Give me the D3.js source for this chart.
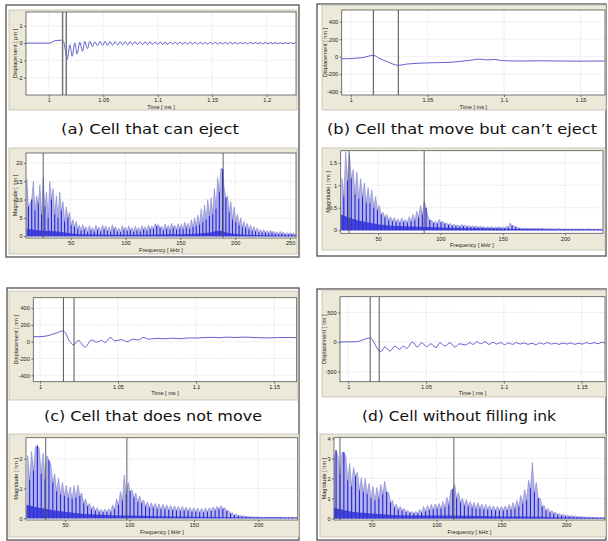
<!DOCTYPE html>
<html>
<head>
<meta charset="utf-8">
<script src="https://cdn.jsdelivr.net/npm/d3@7"></script>
<style>
	body { margin: 0; background: #fff; }
	svg { display: block; }
	.tick text { font-family: "Liberation Sans", Arial, sans-serif; font-size: 5.6px; fill: #222; }
	.tick line { stroke: #444; stroke-width: 0.7; }
	.ttl { font-family: "Liberation Sans", Arial, sans-serif; font-size: 5.6px; fill: #222; }
	.cap { font-family: "DejaVu Sans", sans-serif; font-size: 14px; fill: #111; }
</style>
</head>
<body>
<svg id="fig" width="608" height="541"></svg>
<script>
// captions
const captions = ['(a) Cell that can eject', '(b) Cell that move but can’t eject', '(c) Cell that does not move', '(d) Cell without filling ink'];

// tick labels
const timeTicksA = [1, 1.05, 1.1, 1.15, 1.2];
const timeTicksB = [1, 1.05, 1.1, 1.15];
const dispTicksA = [1, 0, -1, -2];
const dispTicksBC = [400, 200, 0, -200, -400];
const dispTicksD = [500, 0, -500];
const freqTicksA = [50, 100, 150, 200, 250];
const freqTicksB = [50, 100, 150, 200];
const magTicksA = [0, 5, 10, 15, 20];
const magTicksB = [0, 0.5, 1, 1.5];
const magTicksC = [0, 1, 2];
const magTicksD = [0, 1, 2, 3, 4];

// cursor positions (ms / kHz)
const cursorTimeA = [1.0126, 1.016];
const cursorTimeB = [1.0147, 1.031];
const cursorTimeC = [1.015, 1.0218];
const cursorTimeD = [1.0141, 1.0199];
const cursorFreqA = [25, 189];
const cursorFreqB = [26.7, 87];
const cursorFreqC = [35, 98];
const cursorFreqD = [25.5, 113.4];

// displacement signals
const timeA_t = [0.979, 0.990, 1.0009, 1.0028, 1.0064, 1.0116, 1.0133, 1.0151, 1.0168, 1.0193, 1.0214, 1.0238, 1.0260, 1.0284, 1.0309, 1.0330, 1.0355, 1.0376, 1.0400, 1.0422,
	1.0447, 1.0470, 1.0493, 1.0516, 1.0539, 1.0562, 1.0585, 1.0608, 1.0631, 1.0654,
	1.0677, 1.0700, 1.0723, 1.0746, 1.0769, 1.0792, 1.0815, 1.0838, 1.0861, 1.0884,
	1.0907, 1.0930, 1.0953, 1.0976, 1.0999, 1.1022, 1.1045, 1.1068, 1.1091, 1.1114,
	1.1137, 1.1160, 1.1183, 1.1206, 1.1229, 1.1252, 1.1275, 1.1298, 1.1321, 1.1344,
	1.1367, 1.1390, 1.1413, 1.1436, 1.1459, 1.1482, 1.1505, 1.1528, 1.1551, 1.1574,
	1.1597, 1.1620, 1.1643, 1.1666, 1.1689, 1.1712, 1.1735, 1.1758, 1.1781, 1.1804,
	1.1827, 1.1850, 1.1873, 1.1896, 1.1919, 1.1942, 1.1965, 1.1988, 1.2011, 1.2034,
	1.2057, 1.2080, 1.2103, 1.2126, 1.2149, 1.2172, 1.2195, 1.2218, 1.2241, 1.2264];
const timeA_v = [0, 0, 0, 0.06, 0.15, 0.17, 0.12, -0.4, -0.95, -0.1, -0.76, 0.0, -0.63, 0.05, -0.47, 0.1, -0.32, 0.1, -0.2, 0.08,
	-0.16, 0.1, -0.14, 0.1, -0.13, 0.09, -0.12, 0.09, -0.11, 0.08,
	-0.1, 0.08, -0.1, 0.09, -0.09, 0.08, -0.08, 0.07, -0.09, 0.08,
	-0.08, 0.07, -0.07, 0.06, -0.08, 0.07, -0.07, 0.07, -0.07, 0.06,
	-0.06, 0.06, -0.07, 0.06, -0.06, 0.05, -0.06, 0.05, -0.05, 0.05,
	-0.06, 0.05, -0.05, 0.04, -0.06, 0.05, -0.05, 0.05, -0.05, 0.04,
	-0.05, 0.04, -0.05, 0.05, -0.04, 0.04, -0.05, 0.04, -0.04, 0.04,
	-0.05, 0.04, -0.04, 0.04, -0.04, 0.04, -0.05, 0.04, -0.04, 0.03,
	-0.04, 0.04, -0.04, 0.03, -0.04, 0.03, -0.04, 0.04, -0.03, 0.03];

const timeB_t = [0.994, 1.0, 1.008, 1.0147, 1.0191, 1.0235, 1.031, 1.0365, 1.0495, 1.0647, 1.0712, 1.0778, 1.0843, 1.0887, 1.094, 1.0984, 1.1082, 1.1255, 1.1473, 1.1658];
const timeB_v = [-25, -22, -10, 15, -25, -55, -100, -85, -72, -65, -55, -42, -28, -38, -32, -45, -50, -48, -52, -50];

const timeC_t = [0.9957, 1.0, 1.005, 1.010, 1.015, 1.0192, 1.0214, 1.0246, 1.0288, 1.0331, 1.0363, 1.0395, 1.0417, 1.0449, 1.0481, 1.0524, 1.0556, 1.0598, 1.0630, 1.0662,
	1.070, 1.075, 1.08, 1.085, 1.09, 1.095, 1.10, 1.105, 1.11, 1.115, 1.12, 1.125, 1.13, 1.135, 1.14, 1.145, 1.15, 1.155, 1.16, 1.1645];
const timeC_v = [60, 60, 72, 100, 128, 0, -38, 15, -65, 20, -5, 15, -10, 50, 10, 25, 0, 30, 20, 50,
	30, 40, 35, 42, 36, 45, 44, 50, 52, 48, 55, 50, 55, 52, 48, 45, 48, 50, 50, 48];

const timeD_t = [0.9947, 1.0054, 1.0139, 1.0208, 1.0236, 1.0268, 1.030, 1.0332, 1.0353, 1.0375, 1.0414, 1.0443, 1.0472, 1.0504, 1.053, 1.0564, 1.0589, 1.0621, 1.0654, 1.0686,
	1.0718, 1.075, 1.0782, 1.0803, 1.0825, 1.0851, 1.0879, 1.0905, 1.093, 1.0955, 1.098, 1.1005, 1.103, 1.1055, 1.108, 1.1105, 1.113, 1.1155, 1.118, 1.1205,
	1.123, 1.1255, 1.128, 1.1305, 1.133, 1.1355, 1.138, 1.1405, 1.143, 1.1455, 1.148, 1.1505, 1.153, 1.1555, 1.158, 1.1605, 1.163, 1.165];
const timeD_v = [0, 5, 70, -163, -85, -152, -68, -124, -68, -107, 0, -85, -12, -80, -29, -96, -12, -68, -12, -85,
	-29, -50, -12, -40, 5, -29, 5, -40, -5, -35, -10, -45, -15, -40, -10, -35, -15, -40, -20, -45,
	-15, -35, -10, -35, -20, -40, -15, -35, -15, -40, -20, -35, -10, -30, -10, -30, -5, -20];

// spectrum bins (kHz)
const binsA = [10, 13, 16, 19, 22, 25, 28, 31, 34, 37, 40, 43, 46, 49, 52, 55, 58, 61, 64, 67, 70, 73, 76, 79, 82, 85, 88, 91, 94, 97,
	100, 103, 106, 109, 112, 115, 118, 121, 124, 127, 130, 133, 136, 139, 142, 145, 148, 151, 154, 157, 160, 163, 166, 169, 172, 175, 178, 181, 184, 187,
	190, 193, 196, 199, 202, 205, 208, 211, 214, 217, 220, 223, 226, 229, 232, 235, 238, 241, 244, 247, 250, 253];
const binsBCD = [21, 24, 27, 30, 33, 36, 39, 42, 45, 48, 51, 54, 57, 60, 63, 66, 69, 72, 75, 78, 81, 84, 87, 90, 93, 96, 99, 102, 105, 108,
	111, 114, 117, 120, 123, 126, 129, 132, 135, 138, 141, 144, 147, 150, 153, 156, 159, 162, 165, 168, 171, 174, 177, 180, 183, 186, 189, 192, 195, 198,
	201, 204, 207, 210, 213, 216, 219, 222, 225, 228];

// spectrum magnitudes: light (upper) and dark traces
const lightA = [15.5, 9, 15, 11, 14, 16, 12, 15, 13, 11, 12, 9.5, 8, 6.5, 4.5, 4, 3, 3.2, 2.6, 2.9, 2.4, 3, 2.5, 3, 2.8, 2.5, 3.1, 2.6, 2.2, 2.9,
	2.5, 2.8, 2.3, 2.7, 2.4, 2.9, 2.6, 3, 2.8, 3.4, 3.2, 2.7, 3.3, 2.9, 3.5, 3, 3.4, 3.2, 3.8, 3.5, 4.5, 5, 5.8, 7.5, 8.5, 10, 10.5, 13, 16, 18.5,
	13, 11, 9.5, 8, 6, 5, 4, 3.5, 3, 2.6, 2.2, 1.8, 1.8, 1.5, 1.6, 1.4, 1.2, 1.3, 1.1, 1, 1, 0.9];
const darkA = [8, 10, 7, 9, 6, 8, 5, 10, 6, 5, 7, 4, 5, 3, 2.5, 2, 1.5, 1.8, 1.2, 1.6, 1.3, 1.7, 1.2, 1.8, 1.4, 1.2, 1.9, 1.3, 1.1, 1.7,
	1.4, 1.6, 1.2, 1.5, 1.3, 1.8, 1.5, 1.9, 2.0, 2.8, 2.2, 1.6, 2.0, 1.7, 2.2, 1.8, 2.1, 1.9, 2.3, 2.0, 2.6, 2.8, 3.2, 3.8, 4.5, 5.5, 6, 7.5, 12, 18.3,
	10.5, 6.5, 4.5, 3.8, 3, 2.5, 2.2, 1.8, 1.5, 1.3, 1.1, 0.9, 1.0, 0.8, 0.9, 0.7, 0.6, 0.7, 0.5, 0.5, 0.5, 0.4];
const lightB = [1.15, 1.75, 1.7, 1.35, 1.3, 1.15, 1.05, 0.95, 0.9, 0.75, 0.55, 0.4, 0.35, 0.3, 0.28, 0.25, 0.27, 0.24, 0.3, 0.35, 0.42, 0.55, 0.65, 0.3, 0.22, 0.2, 0.24, 0.2, 0.16, 0.15,
	0.13, 0.12, 0.13, 0.11, 0.1, 0.1, 0.09, 0.09, 0.08, 0.08, 0.08, 0.07, 0.08, 0.07, 0.09, 0.16, 0.1, 0.06, 0.05, 0.05, 0.05, 0.04, 0.05, 0.04, 0.04, 0.04, 0.04, 0.03, 0.04, 0.03,
	0.03, 0.03, 0.03, 0.03, 0.03, 0.02, 0.03, 0.02, 0.02, 0.02];
const darkB = [0.75, 1.1, 1.15, 0.8, 0.7, 0.75, 0.6, 0.6, 0.5, 0.45, 0.35, 0.28, 0.22, 0.2, 0.18, 0.17, 0.18, 0.17, 0.2, 0.22, 0.28, 0.35, 0.5, 0.22, 0.16, 0.15, 0.17, 0.14, 0.12, 0.1,
	0.09, 0.08, 0.09, 0.08, 0.07, 0.07, 0.06, 0.06, 0.05, 0.05, 0.05, 0.05, 0.05, 0.05, 0.06, 0.1, 0.07, 0.04, 0.03, 0.03, 0.03, 0.03, 0.03, 0.03, 0.02, 0.02, 0.02, 0.02, 0.02, 0.02,
	0.02, 0.02, 0.02, 0.02, 0.02, 0.02, 0.02, 0.02, 0.02, 0.02];
const lightC = [2.1, 2.25, 2.4, 2.35, 2.2, 2.1, 1.8, 1.5, 1.35, 1.2, 1.1, 1.05, 1.1, 1.12, 0.85, 0.65, 0.5, 0.42, 0.35, 0.3, 0.3, 0.32, 0.45, 0.65, 0.9, 1.45, 1.2, 0.95, 0.85, 0.75,
	0.62, 0.55, 0.52, 0.5, 0.48, 0.47, 0.45, 0.43, 0.42, 0.4, 0.4, 0.38, 0.36, 0.35, 0.34, 0.33, 0.34, 0.35, 0.38, 0.4, 0.42, 0.35, 0.26, 0.18, 0.14, 0.1, 0.08, 0.06, 0.05, 0.04,
	0.04, 0.03, 0.03, 0.03, 0.03, 0.03, 0.02, 0.02, 0.02, 0.02];
const darkC = [1.3, 1.6, 2.45, 1.5, 1.3, 1.95, 1.2, 0.9, 0.8, 0.75, 0.7, 0.65, 0.7, 0.75, 0.5, 0.4, 0.3, 0.25, 0.22, 0.2, 0.2, 0.22, 0.3, 0.45, 0.6, 0.8, 0.9, 0.7, 0.55, 0.5,
	0.4, 0.35, 0.35, 0.32, 0.3, 0.3, 0.28, 0.28, 0.26, 0.25, 0.25, 0.24, 0.22, 0.22, 0.2, 0.2, 0.22, 0.24, 0.26, 0.3, 0.32, 0.24, 0.16, 0.1, 0.08, 0.06, 0.05, 0.04, 0.03, 0.03,
	0.02, 0.02, 0.02, 0.02, 0.02, 0.02, 0.02, 0.02, 0.02, 0.02];
const lightD = [3.0, 3.1, 3.3, 3.1, 2.75, 2.55, 2.3, 2.05, 2.0, 1.75, 1.6, 1.55, 1.7, 1.85, 1.3, 0.9, 0.7, 0.6, 0.5, 0.4, 0.35, 0.35, 0.45, 0.6, 0.65, 0.7, 0.72, 0.75, 0.85, 1.05,
	1.4, 1.7, 1.3, 1.0, 0.95, 0.85, 0.8, 0.78, 0.72, 0.7, 0.65, 0.62, 0.6, 0.6, 0.62, 0.7, 0.8, 0.9, 1.15, 1.45, 1.9, 2.8, 1.8, 1.0, 0.65, 0.5, 0.4, 0.3, 0.25, 0.2,
	0.17, 0.14, 0.12, 0.1, 0.08, 0.07, 0.06, 0.05, 0.05, 0.05];
const darkD = [3.4, 2.2, 3.3, 1.9, 1.6, 2.1, 1.4, 1.3, 1.2, 1.0, 0.9, 1.0, 1.2, 1.3, 0.8, 0.55, 0.45, 0.4, 0.32, 0.28, 0.25, 0.25, 0.3, 0.35, 0.42, 0.45, 0.5, 0.5, 0.55, 0.7,
	1.45, 1.0, 0.8, 0.65, 0.6, 0.55, 0.5, 0.5, 0.45, 0.45, 0.42, 0.4, 0.4, 0.4, 0.42, 0.45, 0.5, 0.6, 0.75, 0.9, 1.5, 1.3, 1.0, 0.6, 0.4, 0.3, 0.25, 0.18, 0.15, 0.12,
	0.1, 0.08, 0.07, 0.06, 0.05, 0.04, 0.04, 0.03, 0.03, 0.03];

// dense floor of each spectrum
const floorA_f = [10, 20, 30, 40, 50, 60, 80, 100, 120, 140, 160, 175, 185, 195, 210, 230, 255];
const floorA_v = [2, 1.6, 1.4, 1.2, 0.8, 0.5, 0.4, 0.4, 0.4, 0.5, 0.6, 0.9, 1.5, 0.8, 0.4, 0.25, 0.15];
const floorB_f = [20, 25, 30, 40, 50, 60, 80, 100, 130, 160, 200, 230];
const floorB_v = [0.35, 0.3, 0.25, 0.18, 0.13, 0.1, 0.08, 0.06, 0.04, 0.025, 0.015, 0.015];
const floorC_f = [20, 30, 40, 50, 60, 70, 85, 100, 120, 150, 180, 200, 230];
const floorC_v = [0.45, 0.35, 0.28, 0.22, 0.17, 0.13, 0.1, 0.09, 0.07, 0.05, 0.035, 0.02, 0.015];
const floorD_f = [20, 30, 40, 50, 60, 70, 85, 100, 120, 150, 180, 200, 230];
const floorD_v = [0.55, 0.4, 0.3, 0.25, 0.2, 0.16, 0.14, 0.14, 0.13, 0.1, 0.08, 0.04, 0.02];

const svg = d3.select('#fig');

// layout of the four figure boxes and eight plots
const boxes = [[6, 5, 299, 257], [317, 4, 606, 256], [7, 288, 299, 540], [317, 289, 606, 540]];
const capPos = [[150, 133.5, 178], [462, 133.5, 270], [153, 420.5, 218], [459, 420.5, 194]];

const timePlots = [
	{ id: 'ta', bg: [9, 10, 297, 110], plot: [26, 12, 296, 95], xd: [0.979, 1.227], yd: [-3, 1.8], xt: timeTicksA, yt: dispTicksA, ylab: 'Displacement [ µm ]', yoff: 11, t: timeA_t, v: timeA_v, cur: cursorTimeA, curW: 1.5, curC: '#777' },
	{ id: 'tb', bg: [322, 5, 606, 110], plot: [341.7, 10, 605, 95], xd: [0.994, 1.166], yd: [-440, 535], xt: timeTicksB, yt: dispTicksBC, ylab: 'Displacement [ nm ]', yoff: 16.5, t: timeB_t, v: timeB_v, cur: cursorTimeB, curW: 1.2, curC: '#666' },
	{ id: 'tc', bg: [9, 291, 298, 400], plot: [33.3, 297.7, 296.7, 381.7], xd: [0.9957, 1.1645], yd: [-476, 524], xt: timeTicksB, yt: dispTicksBC, ylab: 'Displacement [ nm ]', yoff: 17, t: timeC_t, v: timeC_v, cur: cursorTimeC, curW: 1, curC: '#555' },
	{ id: 'td', bg: [322, 290, 606, 397], plot: [340, 296.7, 605, 381.7], xd: [0.9947, 1.165], yd: [-670, 765], xt: timeTicksB, yt: dispTicksD, ylab: 'Displacement [ nm ]', yoff: 16, t: timeD_t, v: timeD_v, cur: cursorTimeD, curW: 1, curC: '#555' }
];
const specPlots = [
	{ id: 'sa', bg: [9, 148, 297, 254], plot: [26, 153, 296, 238], xd: [9.3, 255.4], yd: [-0.5, 22.7], xt: freqTicksA, yt: magTicksA, yoff: 11, bins: binsA, light: lightA, dark: darkA, ff: floorA_f, fv: floorA_v, cur: cursorFreqA },
	{ id: 'sb', bg: [322, 148, 605, 250], plot: [340.7, 150.7, 603, 233.3], xd: [20, 230.5], yd: [-0.07, 1.77], xt: freqTicksB, yt: magTicksB, yoff: 12.5, bins: binsBCD, light: lightB, dark: darkB, ff: floorB_f, fv: floorB_v, cur: cursorFreqB },
	{ id: 'sc', bg: [9, 434, 299, 537], plot: [26, 437.7, 297.7, 520], xd: [19.7, 230.6], yd: [-0.06, 2.71], xt: freqTicksB, yt: magTicksC, yoff: 10, bins: binsBCD, light: lightC, dark: darkC, ff: floorC_f, fv: floorC_v, cur: cursorFreqC },
	{ id: 'sd', bg: [320, 434, 606, 537], plot: [334, 437.3, 605, 520], xd: [20.9, 230], yd: [-0.08, 4.05], xt: freqTicksB, yt: magTicksD, yoff: 10, bins: binsBCD, light: lightD, dark: darkD, ff: floorD_f, fv: floorD_v, cur: cursorFreqD }
];

// figure boxes and captions
boxes.forEach(function(b, i) {
	svg.append('rect')
		.attr('x', b[0]).attr('y', b[1])
		.attr('width', b[2] - b[0]).attr('height', b[3] - b[1])
		.attr('fill', '#fff').attr('stroke', '#505050').attr('stroke-width', 1.3);
	svg.append('text')
		.attr('class', 'cap')
		.attr('x', capPos[i][0]).attr('y', capPos[i][1])
		.attr('text-anchor', 'middle')
		.attr('textLength', capPos[i][2])
		.attr('lengthAdjust', 'spacingAndGlyphs')
		.text(captions[i]);
});

function setupPlot(p) {
	const x = d3.scaleLinear().domain(p.xd).range([p.plot[0], p.plot[2]]);
	const y = d3.scaleLinear().domain(p.yd).range([p.plot[3], p.plot[1]]);
	const pw = p.plot[2] - p.plot[0];
	const ph = p.plot[3] - p.plot[1];

	svg.append('rect')
		.attr('x', p.bg[0]).attr('y', p.bg[1])
		.attr('width', p.bg[2] - p.bg[0]).attr('height', p.bg[3] - p.bg[1])
		.attr('fill', '#ece9d8').attr('stroke', '#b9b6a6').attr('stroke-width', 0.7);
	svg.append('rect')
		.attr('x', p.plot[0]).attr('y', p.plot[1])
		.attr('width', pw).attr('height', ph)
		.attr('fill', '#fff');

	// dotted grid
	const grid = svg.append('g').attr('stroke', '#c4c4c4').attr('stroke-width', 0.6).attr('stroke-dasharray', '1,1.5');
	grid.selectAll('.vg').data(p.xt).join('line')
		.attr('x1', d => x(d)).attr('x2', d => x(d))
		.attr('y1', p.plot[1]).attr('y2', p.plot[3]);
	grid.selectAll('.hg').data(p.yt).join('line')
		.attr('x1', p.plot[0]).attr('x2', p.plot[2])
		.attr('y1', d => y(d)).attr('y2', d => y(d));

	svg.append('clipPath').attr('id', 'clip-' + p.id)
		.append('rect')
		.attr('x', p.plot[0]).attr('y', p.plot[1])
		.attr('width', pw).attr('height', ph);
	const g = svg.append('g').attr('clip-path', `url(#clip-${p.id})`);
	return { x, y, g };
}

function finishPlot(p, x, y, xlab, ylab) {
	svg.append('rect')
		.attr('x', p.plot[0]).attr('y', p.plot[1])
		.attr('width', p.plot[2] - p.plot[0]).attr('height', p.plot[3] - p.plot[1])
		.attr('fill', 'none').attr('stroke', '#555').attr('stroke-width', 0.8);

	svg.append('g')
		.attr('transform', `translate(0, ${p.plot[3]})`)
		.call(d3.axisBottom(x).tickValues(p.xt).tickSize(2).tickPadding(1.5).tickFormat(d => String(d)))
		.call(a => a.select('.domain').remove());
	svg.append('g')
		.attr('transform', `translate(${p.plot[0]}, 0)`)
		.call(d3.axisLeft(y).tickValues(p.yt).tickSize(2).tickPadding(1.5).tickFormat(d => String(d)))
		.call(a => a.select('.domain').remove());

	svg.append('text')
		.attr('class', 'ttl')
		.attr('x', (p.plot[0] + p.plot[2]) / 2)
		.attr('y', p.plot[3] + 13.5)
		.attr('text-anchor', 'middle')
		.text(xlab);
	const cy = (p.plot[1] + p.plot[3]) / 2;
	const cx = p.plot[0] - p.yoff;
	svg.append('text')
		.attr('class', 'ttl')
		.attr('transform', `translate(${cx}, ${cy}) rotate(-90)`)
		.attr('text-anchor', 'middle')
		.attr('dy', '0.35em')
		.text(ylab);
}

// displacement plots
timePlots.forEach(function(p) {
	const { x, y, g } = setupPlot(p);
	const line = d3.line()
		.x((d, i) => x(p.t[i]))
		.y(d => y(d))
		.curve(d3.curveMonotoneX);
	g.append('path')
		.attr('d', line(p.v))
		.attr('fill', 'none')
		.attr('stroke', '#4e4ec8')
		.attr('stroke-width', 0.9);
	g.selectAll('.cur').data(p.cur).join('line')
		.attr('x1', d => x(d)).attr('x2', d => x(d))
		.attr('y1', p.plot[1]).attr('y2', p.plot[3])
		.attr('stroke', p.curC).attr('stroke-width', p.curW);
	finishPlot(p, x, y, 'Time [ ms ]', p.ylab);
});

// spectrum plots
specPlots.forEach(function(p) {
	const { x, y, g } = setupPlot(p);
	const half = (x(p.bins[1]) - x(p.bins[0])) / 2;

	// light trace: spikes up to the light value, valleys at the dark value
	const pts = [];
	p.bins.forEach(function(f, i) {
		pts.push([x(f), y(p.light[i])]);
		pts.push([x(f) + half, y(p.dark[i])]);
	});
	g.append('path')
		.attr('d', d3.area().x(d => d[0]).y0(y(0)).y1(d => d[1])(pts))
		.attr('fill', '#b3b3e6')
		.attr('stroke', '#7474cc')
		.attr('stroke-width', 0.5);

	// dark trace as stems
	g.selectAll('.stem').data(p.dark).join('line')
		.attr('x1', (d, i) => x(p.bins[i]) + half).attr('x2', (d, i) => x(p.bins[i]) + half)
		.attr('y1', y(0)).attr('y2', d => y(d))
		.attr('stroke', '#2222e0').attr('stroke-width', 1.1);

	// dense floor
	const fl = d3.area()
		.x((d, i) => x(p.ff[i]))
		.y0(y(0))
		.y1(d => y(d))
		.curve(d3.curveMonotoneX);
	g.append('path')
		.attr('d', fl(p.fv))
		.attr('fill', '#3030d8')
		.attr('fill-opacity', 0.85);

	g.selectAll('.cur').data(p.cur).join('line')
		.attr('x1', d => x(d)).attr('x2', d => x(d))
		.attr('y1', p.plot[1]).attr('y2', p.plot[3])
		.attr('stroke', '#505050').attr('stroke-width', 0.9);
	finishPlot(p, x, y, 'Frequency [ kHz ]', 'Magnitude [ nm ]');
});
</script>
</body>
</html>
